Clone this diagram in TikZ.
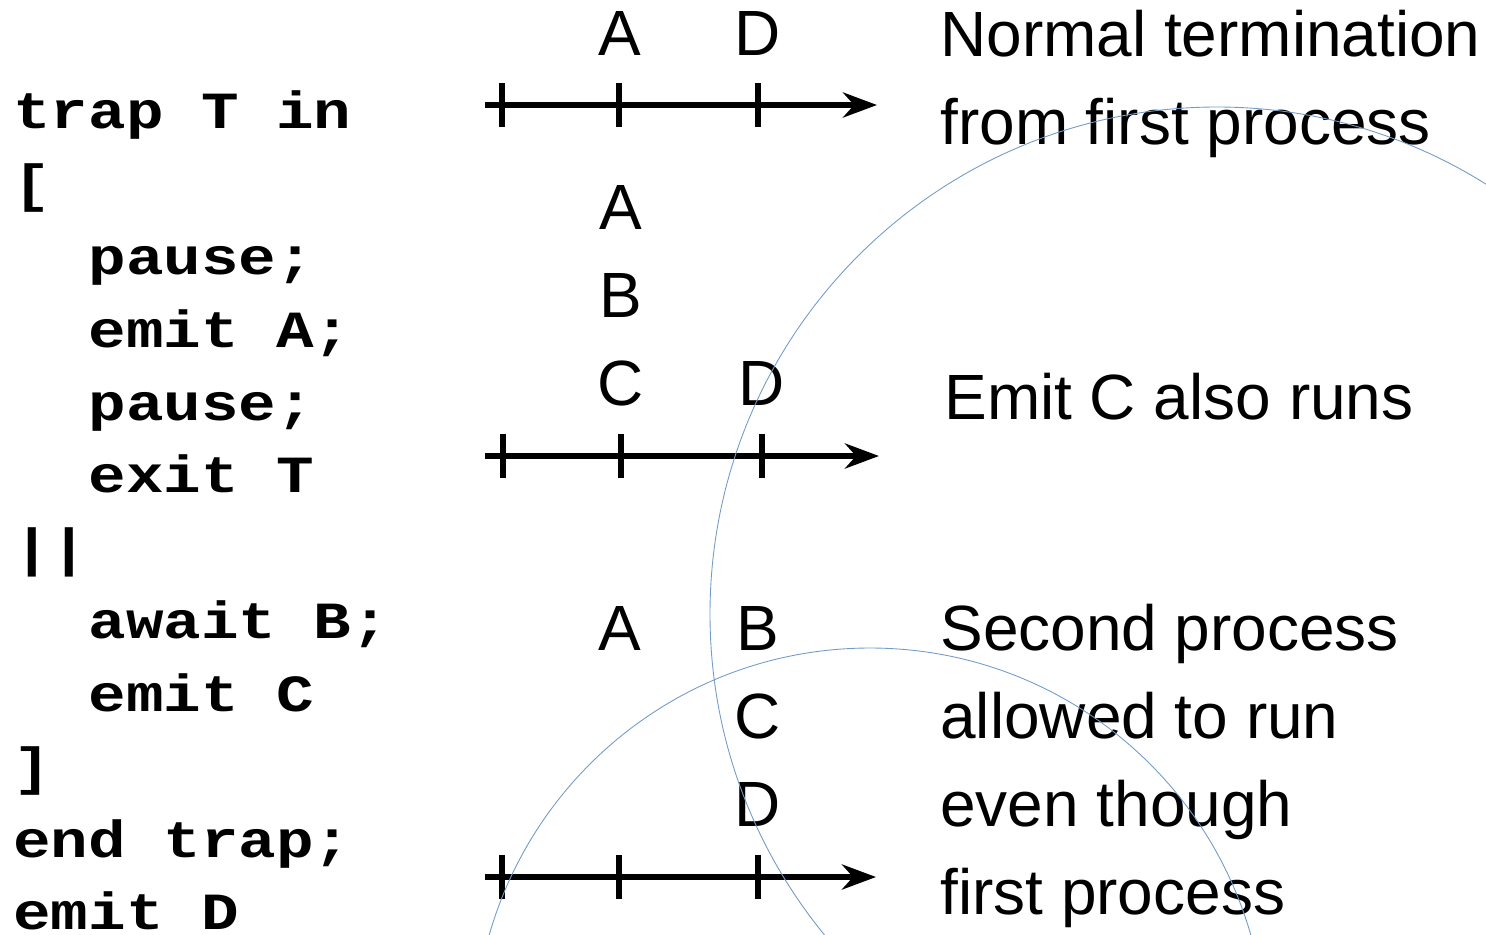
\documentclass[tikz,border=0pt]{standalone}
\usepackage{fontspec}
\setmainfont{Liberation Sans}
\newfontfamily\codefont{Liberation Mono}[FakeStretch=1.2]
\usepackage{xcolor}
\definecolor{ringblue}{RGB}{115,155,200}
\usetikzlibrary{arrows.meta}

\begin{document}
\begin{tikzpicture}[
  x=0.02cm, y=-0.02cm,
  code/.style={anchor=base west, inner sep=0pt,
               font=\fontsize{29.7}{34}\selectfont\codefont\bfseries},
  sig/.style={anchor=base, inner sep=0pt, font=\fontsize{36.4}{42}\selectfont},
  note/.style={anchor=base west, inner sep=0pt, font=\fontsize{36.4}{42}\selectfont},
  timeline/.style={line width=3.7pt, -{Stealth[length=0.68cm, width=0.5cm]}},
  tickmark/.style={line width=3.7pt},
  ring/.style={draw=ringblue, line width=0.5pt}
]
  \useasboundingbox (0,0) rectangle (1486,934);
  \clip (0,0) rectangle (1486,934);

  % Esterel listing, one node per line
  \node[code] (c0)  at (13,128)  {trap T in};
  \node[code] (c1)  at (13,201)  {[};
  \node[code] (c2)  at (13,274)  {\hphantom{xx}pause;};
  \node[code] (c3)  at (13,347)  {\hphantom{xx}emit A;};
  \node[code] (c4)  at (13,420)  {\hphantom{xx}pause;};
  \node[code] (c5)  at (13,492)  {\hphantom{xx}exit T};
  \node[code] (c6)  at (13,565)  {||};
  \node[code] (c7)  at (13,638)  {\hphantom{xx}await B;};
  \node[code] (c8)  at (13,711)  {\hphantom{xx}emit C};
  \node[code] (c9)  at (13,784)  {]};
  \node[code] (c10) at (13,857)  {end trap;};
  \node[code] (c11) at (13,929)  {emit D};

  % Case 1: normal termination
  \node[sig] (a1) at (620,55) {A};
  \node[sig] (d1) at (758,55) {D};
  \coordinate (s1) at (485,105); \coordinate (e1) at (877,105);
  \draw[timeline] (s1) -- (e1);
  \foreach \x in {502,619,758} \draw[tickmark] (\x,83) -- (\x,127);
  \node[note] (n1) at (940,56)  {Normal termination};
  \node[note] (n2) at (940,144) {from first process};

  % Case 2: C emitted in the same instant
  \node[sig] (a2) at (621,229) {A};
  \node[sig] (b2) at (621,317) {B};
  \node[sig] (c2) at (621,405) {C};
  \node[sig] (d2) at (762,405) {D};
  \coordinate (s2) at (485,456); \coordinate (e2) at (879,456);
  \draw[timeline] (s2) -- (e2);
  \foreach \x in {503,621,762} \draw[tickmark] (\x,434) -- (\x,478);
  \node[note] (n3) at (944,419) {Emit C also runs};

  % Case 3: B arrives with the exit
  \node[sig] (a3) at (620,650) {A};
  \node[sig] (b3) at (758,650) {B};
  \node[sig] (c3) at (758,738) {C};
  \node[sig] (d3) at (758,826) {D};
  \coordinate (s3) at (485,877); \coordinate (e3) at (876,877);
  \draw[timeline] (s3) -- (e3);
  \foreach \x in {502,619,758} \draw[tickmark] (\x,855) -- (\x,899);
  \node[note] (n4) at (940,650) {Second process};
  \node[note] (n5) at (940,738) {allowed to run};
  \node[note] (n6) at (940,826) {even though};
  \node[note] (n7) at (940,914) {first process};

  % thin rings behind the text
  \draw[ring] (1217,614) circle [radius=507];
  \draw[ring] (870,1044) circle [radius=396];
\end{tikzpicture}
\end{document}
